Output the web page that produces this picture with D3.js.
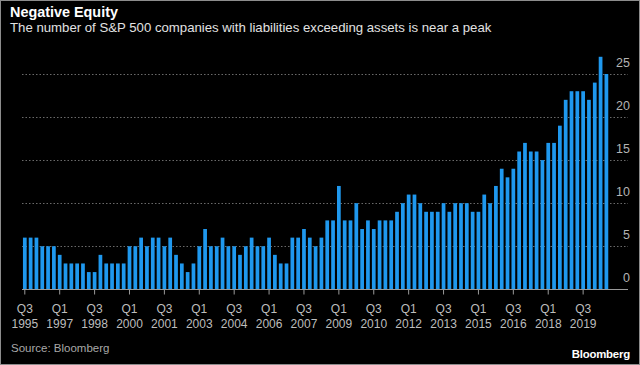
<!DOCTYPE html>
<html>
<head>
<meta charset="utf-8">
<script src="https://cdn.jsdelivr.net/npm/d3@7"></script>
<style>
  html, body { margin: 0; padding: 0; background: #000; }
  svg { display: block; }
  text { font-family: "Liberation Sans", Arial, sans-serif; }
</style>
</head>
<body>
<svg id="chart" width="640" height="365"></svg>
<script>
// ---- Data ----
const startYear = 1995;
const startQuarter = 3;
const values = [
  6,6,6,5,5,5,
  4,3,3,3,3,2,2,
  4,3,3,3,3,
  5,5,6,5,6,6,
  5,6,4,3,2,3,
  5,7,5,5,6,5,
  5,4,5,6,5,5,
  6,4,3,3,6,6,
  7,6,5,6,8,8,
  12,8,8,10,7,8,
  7,8,8,8,9,10,
  11,11,10,9,9,9,
  10,9,10,10,10,9,
  9,11,10,12,14,13,
  14,16,17,16,16,15,
  17,17,19,22,23,23,
  23,22,24,27,25
];
const tickQuarters = ["Q3","Q1","Q3","Q1","Q3","Q1","Q3","Q1","Q3","Q1","Q3","Q1","Q3","Q1","Q3","Q1","Q3"];
const tickYears = ["1995","1997","1998","2000","2001","2003","2004","2006","2007","2009","2010","2012","2013","2015","2016","2018","2019"];
const yTicks = [0, 5, 10, 15, 20, 25];

const title = "Negative Equity";
const subtitle = "The number of S&P 500 companies with liabilities exceeding assets is near a peak";
const source = "Source: Bloomberg";

// categories (quarters)
const categories = values.map((v, i) => {
  const q = (startQuarter - 1 + i) % 4 + 1;
  const y = startYear + Math.floor((startQuarter - 1 + i) / 4);
  return "Q" + q + " " + y;
});
const tickLabels = tickQuarters.map((q, i) => q + " " + tickYears[i]);

// ---- Layout ----
const svg = d3.select("#chart");
const W = 640, H = 365;

svg.append("rect").attr("x", 0).attr("y", 0).attr("width", W).attr("height", H).attr("fill", "#000");

const x = d3.scaleBand()
  .domain(categories)
  .range([21.9, 609.3])
  .paddingInner(0.36)
  .paddingOuter(0.18);

const y = d3.scaleLinear().domain([0, 25]).range([289.3, 74]);

const gridX0 = 22, gridX1 = 628;

// gridlines
svg.append("g").selectAll("line")
  .data(yTicks.filter(d => d > 0))
  .join("line")
  .attr("x1", gridX0).attr("x2", gridX1)
  .attr("y1", d => Math.round(y(d)) + 0.5).attr("y2", d => Math.round(y(d)) + 0.5)
  .attr("stroke", "#6a6a6a")
  .attr("stroke-width", 1)
  .attr("stroke-dasharray", "1.5,2");

// y labels (above gridlines, right side)
svg.append("g").selectAll("text")
  .data(yTicks)
  .join("text")
  .attr("x", 630)
  .attr("y", d => y(d) - 7)
  .attr("text-anchor", "end")
  .attr("fill", "#b4b4b4")
  .attr("font-size", "12.5px")
  .text(d => d);

// bars
svg.append("g").selectAll("rect")
  .data(values)
  .join("rect")
  .attr("x", (d, i) => x(categories[i]))
  .attr("width", x.bandwidth())
  .attr("y", d => y(d))
  .attr("height", d => y(0) - y(d))
  .attr("fill", "#1f98ee");

// x axis
const xAxis = d3.axisBottom(x)
  .tickValues(categories.filter(c => tickLabels.includes(c)))
  .tickSize(5)
  .tickFormat("");
const gx = svg.append("g")
  .attr("transform", `translate(0,${Math.round(y(0)) + 0.5})`)
  .call(xAxis);
gx.select(".domain").remove();
gx.selectAll(".tick line").attr("stroke", "#9a9a9a");
svg.append("line")
  .attr("x1", gridX0).attr("x2", gridX1)
  .attr("y1", Math.round(y(0)) + 0.5).attr("y2", Math.round(y(0)) + 0.5)
  .attr("stroke", "#9a9a9a").attr("stroke-width", 1);

const lbl = svg.append("g").selectAll("g")
  .data(tickLabels)
  .join("g")
  .attr("transform", d => `translate(${x(d) + x.bandwidth() / 2},0)`);
lbl.append("text")
  .attr("y", 313).attr("text-anchor", "middle")
  .attr("fill", "#bdbdbd").attr("font-size", "12px")
  .text(d => d.split(" ")[0]);
lbl.append("text")
  .attr("y", 327.5).attr("text-anchor", "middle")
  .attr("fill", "#bdbdbd").attr("font-size", "12px")
  .text(d => d.split(" ")[1]);

// titles
svg.append("text")
  .attr("x", 10).attr("y", 16.5)
  .attr("fill", "#fff").attr("font-weight", "bold").attr("font-size", "14.4px")
  .text(title);
svg.append("text")
  .attr("x", 10).attr("y", 31.5)
  .attr("fill", "#e2e2e2").attr("font-size", "13.2px")
  .text(subtitle);

// source
svg.append("text")
  .attr("x", 11).attr("y", 352)
  .attr("fill", "#a8a8a8").attr("font-size", "11.5px")
  .text(source);

// logo
svg.append("text")
  .attr("x", 630).attr("y", 357.5)
  .attr("text-anchor", "end")
  .attr("fill", "#fff").attr("font-weight", "bold").attr("font-size", "11.4px")
  .attr("letter-spacing", "-0.2px")
  .text("Bloomberg");

// border
svg.append("rect")
  .attr("x", 0.5).attr("y", 0.5).attr("width", W - 1).attr("height", H - 1)
  .attr("fill", "none").attr("stroke", "#8c8c8c").attr("stroke-width", 1);
</script>
</body>
</html>
